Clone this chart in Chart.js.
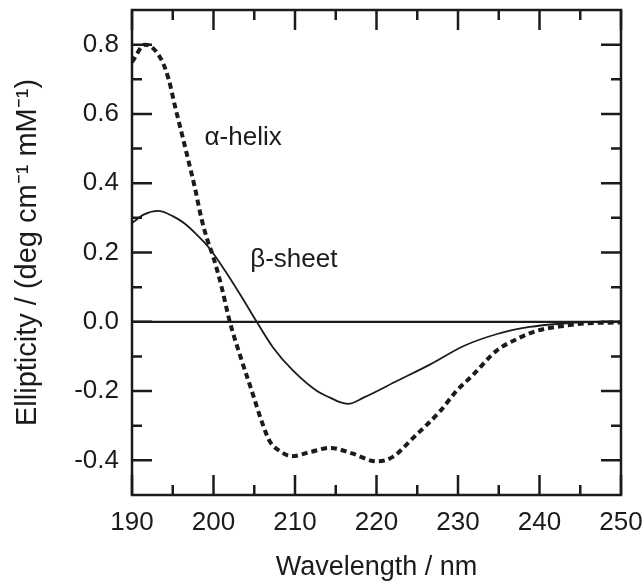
<!DOCTYPE html>
<html>
<head>
<meta charset="utf-8">
<script src="https://cdn.jsdelivr.net/npm/chart.js@4/dist/chart.umd.min.js"></script>
<style>
  html, body { margin: 0; padding: 0; background: #fff; }
  #cd { display: block; }
</style>
</head>
<body>
<canvas id="cd" width="643" height="582"></canvas>
<script>
// wavelength (nm) / ellipticity values
var helixX = [190, 191.6, 193.6, 194.5, 195.3, 196.1, 196.9, 197.7, 198.5, 199.2, 200.0, 201.0, 202.0, 203.3, 204.7, 206.1, 206.9, 208.2, 209.6, 212.0, 214.3, 217.0, 220.0, 222.0, 224.5, 227.8, 229.8, 231.9, 234.7, 237.2, 239.7, 242.9, 246.0, 250];
var helixY = [0.75, 0.80, 0.757, 0.70, 0.62, 0.544, 0.467, 0.389, 0.30, 0.24, 0.185, 0.10, 0.0, -0.10, -0.20, -0.30, -0.345, -0.374, -0.388, -0.375, -0.364, -0.38, -0.403, -0.39, -0.335, -0.258, -0.20, -0.152, -0.084, -0.05, -0.026, -0.012, -0.004, -0.002];

var sheetX = [190, 191.5, 193.2, 195.0, 196.5, 198.0, 199.4, 201.4, 203.5, 205.3, 207.3, 209.8, 212.7, 214.3, 215.5, 216.5, 218.4, 222.5, 226.6, 230.7, 234.7, 238.8, 242.9, 246.0, 250];
var sheetY = [0.285, 0.31, 0.32, 0.305, 0.283, 0.25, 0.215, 0.148, 0.07, 0.0, -0.074, -0.142, -0.2, -0.219, -0.232, -0.237, -0.219, -0.171, -0.123, -0.07, -0.036, -0.015, -0.005, -0.001, 0];

var xTicks = [190, 200, 210, 220, 230, 240, 250];
var yTicks = [-0.4, -0.2, 0.0, 0.2, 0.4, 0.6, 0.8];

var FONT = '"Liberation Sans", Arial, Helvetica, sans-serif';
var INK = '#1b1b1b';

function pts(xs, ys) {
    return xs.map(function (x, i) { return {x: x, y: ys[i]}; });
}

// frame, inward ticks and curve labels
var decor = {
    id: 'decor',
    afterDatasetsDraw: function (chart) {
        var ctx = chart.ctx, a = chart.chartArea;
        var sx = chart.scales.x, sy = chart.scales.y;
        ctx.save();
        ctx.strokeStyle = INK;
        ctx.lineWidth = 2.5;
        ctx.lineCap = 'butt';
        ctx.beginPath();
        xTicks.forEach(function (v, i) {
            var px = sx.getPixelForValue(v);
            ctx.moveTo(px, a.bottom); ctx.lineTo(px, a.bottom - 20);
            ctx.moveTo(px, a.top); ctx.lineTo(px, a.top + 20);
            if (i < xTicks.length - 1) {
                var mx = sx.getPixelForValue(v + 5);
                ctx.moveTo(mx, a.bottom); ctx.lineTo(mx, a.bottom - 10);
                ctx.moveTo(mx, a.top); ctx.lineTo(mx, a.top + 10);
            }
        });
        yTicks.forEach(function (v) {
            var py = sy.getPixelForValue(v);
            ctx.moveTo(a.left, py); ctx.lineTo(a.left + 20, py);
            ctx.moveTo(a.right, py); ctx.lineTo(a.right - 20, py);
        });
        [-0.3, -0.1, 0.1, 0.3, 0.5, 0.7].forEach(function (v) {
            var py = sy.getPixelForValue(v);
            ctx.moveTo(a.left, py); ctx.lineTo(a.left + 10, py);
            ctx.moveTo(a.right, py); ctx.lineTo(a.right - 10, py);
        });
        ctx.stroke();
        ctx.strokeRect(a.left, a.top, a.right - a.left, a.bottom - a.top);

        ctx.fillStyle = INK;
        ctx.font = '26px ' + FONT;
        ctx.textAlign = 'left';
        ctx.textBaseline = 'alphabetic';
        ctx.fillText('\u03b1-helix', sx.getPixelForValue(198.9), sy.getPixelForValue(0.51));
        ctx.fillText('\u03b2-sheet', sx.getPixelForValue(204.5), sy.getPixelForValue(0.157));
        ctx.restore();
    }
};

var ctx = document.getElementById('cd').getContext('2d');
var chart = new Chart(ctx, {
    type: 'line',
    data: {
        datasets: [
            {
                label: 'zero',
                data: pts([190, 250], [0, 0]),
                borderColor: INK,
                borderWidth: 2.2,
                pointRadius: 0,
                tension: 0
            },
            {
                label: '\u03b2-sheet',
                data: pts(sheetX, sheetY),
                borderColor: INK,
                borderWidth: 1.8,
                pointRadius: 0,
                cubicInterpolationMode: 'monotone'
            },
            {
                label: '\u03b1-helix',
                data: pts(helixX, helixY),
                borderColor: INK,
                borderWidth: 4,
                borderDash: [6, 4],
                borderCapStyle: 'butt',
                pointRadius: 0,
                cubicInterpolationMode: 'monotone'
            }
        ]
    },
    options: {
        responsive: false,
        animation: false,
        layout: { padding: { top: 10, right: 22, left: 0, bottom: 0 } },
        plugins: { legend: { display: false }, tooltip: { enabled: false } },
        scales: {
            x: {
                type: 'linear',
                min: 190,
                max: 250,
                afterBuildTicks: function (s) { s.ticks = xTicks.map(function (v) { return {value: v}; }); },
                afterFit: function (s) { s.height = 87; s.paddingLeft = 0; s.paddingRight = 0; },
                grid: { display: false, drawTicks: false },
                border: { display: false },
                ticks: {
                    padding: 12,
                    maxRotation: 0,
                    color: INK,
                    font: { family: FONT, size: 26 }
                },
                title: {
                    display: true,
                    text: 'Wavelength / nm',
                    color: INK,
                    font: { family: FONT, size: 27 },
                    padding: { top: 0, bottom: -2 }
                }
            },
            y: {
                min: -0.5,
                max: 0.9,
                afterBuildTicks: function (s) { s.ticks = yTicks.map(function (v) { return {value: v}; }); },
                afterFit: function (s) { s.width = 132; s.paddingTop = 0; s.paddingBottom = 0; },
                grid: { display: false, drawTicks: false },
                border: { display: false },
                ticks: {
                    padding: 13,
                    color: INK,
                    font: { family: FONT, size: 26 },
                    callback: function (v) { return v.toFixed(1); }
                },
                title: {
                    display: true,
                    text: 'Ellipticity / (deg cm\u207b\u00b9 mM\u207b\u00b9)',
                    color: INK,
                    font: { family: FONT, size: 29 },
                    padding: { top: 11, bottom: 0 }
                }
            }
        }
    },
    plugins: [decor]
});
</script>
</body>
</html>
